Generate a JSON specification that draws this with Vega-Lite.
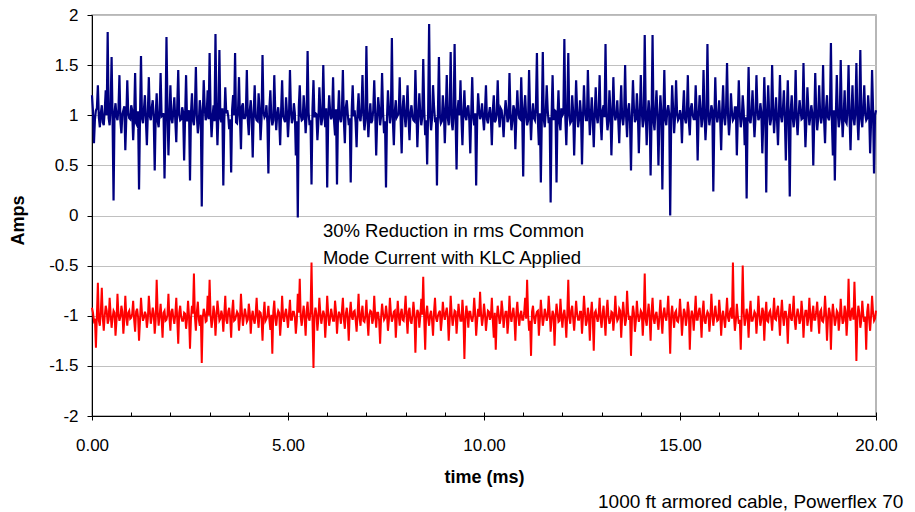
{
"$schema": "https://vega.github.io/schema/vega-lite/v6.json",
"width": 784, "height": 401,
"autosize": {"type": "none"},
"padding": {"left": 92, "top": 15, "right": 39, "bottom": 96},
"background": "white",
"config": {"view": {"stroke": "#a0a0a0", "strokeWidth": 1.5}, "font": "Liberation Sans"},
"title": {"text": "1000 ft armored cable, Powerflex 70", "orient": "bottom", "anchor": "end", "fontSize": 19, "fontWeight": "normal", "color": "black", "offset": 7, "dx": 6},
"resolve": {"axis": {"x": "independent"}},
"data": {"values": [
{"t":0,"b":1.2,"r":-0.92},{"t":0.05,"b":0.72,"r":-1.05},{"t":0.1,"b":1.05,"r":-1.32},{"t":0.15,"b":1.3,"r":-0.67},{"t":0.2,"b":0.88,"r":-1.1},{"t":0.25,"b":1.1,"r":-0.72},{"t":0.3,"b":0.9,"r":-1.15},{"t":0.35,"b":1.25,"r":-0.9},{"t":0.4,"b":1.83,"r":-1.08},{"t":0.45,"b":0.9,"r":-0.82},
{"t":0.5,"b":1.58,"r":-1.12},{"t":0.55,"b":0.15,"r":-0.95},{"t":0.6,"b":1.12,"r":-1.2},{"t":0.65,"b":0.95,"r":-0.78},{"t":0.7,"b":1.4,"r":-1.05},{"t":0.75,"b":0.82,"r":-0.9},{"t":0.8,"b":1.05,"r":-1.18},{"t":0.85,"b":0.65,"r":-0.8},{"t":0.9,"b":1.35,"r":-1.1},{"t":0.95,"b":0.97,"r":-0.95},
{"t":1,"b":1.1,"r":-1.02},{"t":1.05,"b":0.75,"r":-0.85},{"t":1.1,"b":1.42,"r":-1.16},{"t":1.15,"b":0.9,"r":-0.93},{"t":1.2,"b":0.26,"r":-1.25},{"t":1.25,"b":1.59,"r":-0.82},{"t":1.3,"b":0.92,"r":-1.05},{"t":1.35,"b":1.2,"r":-0.96},{"t":1.4,"b":0.7,"r":-1.12},{"t":1.45,"b":1.38,"r":-0.8},
{"t":1.5,"b":0.95,"r":-1.08},{"t":1.55,"b":1.15,"r":-0.92},{"t":1.6,"b":0.45,"r":-1.18},{"t":1.65,"b":1.22,"r":-0.64},{"t":1.7,"b":0.88,"r":-1.1},{"t":1.75,"b":1.42,"r":-0.88},{"t":1.8,"b":1.0,"r":-1.22},{"t":1.85,"b":0.37,"r":-0.95},{"t":1.9,"b":1.78,"r":-1.04},{"t":1.95,"b":0.6,"r":-0.78},
{"t":2,"b":1.3,"r":-1.15},{"t":2.05,"b":0.92,"r":-0.93},{"t":2.1,"b":1.18,"r":-1.08},{"t":2.15,"b":0.73,"r":-0.82},{"t":2.2,"b":1.45,"r":-1.28},{"t":2.25,"b":0.95,"r":-0.9},{"t":2.3,"b":1.08,"r":-1.05},{"t":2.35,"b":0.55,"r":-0.97},{"t":2.4,"b":1.4,"r":-1.13},{"t":2.45,"b":1.02,"r":-0.85},
{"t":2.5,"b":0.35,"r":-1.33},{"t":2.55,"b":1.22,"r":-0.9},{"t":2.6,"b":0.9,"r":-0.58},{"t":2.65,"b":1.48,"r":-1.15},{"t":2.7,"b":0.82,"r":-0.86},{"t":2.75,"b":1.15,"r":-1.1},{"t":2.8,"b":0.09,"r":-1.47},{"t":2.85,"b":1.35,"r":-0.93},{"t":2.9,"b":0.95,"r":-1.06},{"t":2.95,"b":1.25,"r":-0.8},
{"t":3,"b":1.62,"r":-0.64},{"t":3.05,"b":0.78,"r":-1.12},{"t":3.1,"b":1.1,"r":-0.9},{"t":3.15,"b":1.81,"r":-1.2},{"t":3.2,"b":0.7,"r":-0.85},{"t":3.25,"b":1.65,"r":-1.05},{"t":3.3,"b":0.93,"r":-0.95},{"t":3.35,"b":0.3,"r":-1.16},{"t":3.4,"b":1.28,"r":-0.8},{"t":3.45,"b":1.05,"r":-1.08},
{"t":3.5,"b":0.86,"r":-0.92},{"t":3.55,"b":0.43,"r":-1.22},{"t":3.6,"b":1.2,"r":-0.84},{"t":3.65,"b":1.62,"r":-1.04},{"t":3.7,"b":0.92,"r":-0.96},{"t":3.75,"b":1.38,"r":-1.15},{"t":3.8,"b":0.66,"r":-0.78},{"t":3.85,"b":1.12,"r":-1.1},{"t":3.9,"b":0.97,"r":-0.93},{"t":3.95,"b":1.45,"r":-1.06},
{"t":4,"b":0.8,"r":-0.88},{"t":4.05,"b":1.15,"r":-1.18},{"t":4.1,"b":0.58,"r":-0.95},{"t":4.15,"b":1.3,"r":-1.08},{"t":4.2,"b":0.95,"r":-0.82},{"t":4.25,"b":1.22,"r":-1.12},{"t":4.3,"b":0.75,"r":-0.97},{"t":4.35,"b":1.6,"r":-1.25},{"t":4.4,"b":0.98,"r":-0.86},{"t":4.45,"b":1.1,"r":-1.03},
{"t":4.5,"b":0.42,"r":-0.9},{"t":4.55,"b":1.25,"r":-1.14},{"t":4.6,"b":0.9,"r":-1.38},{"t":4.65,"b":1.4,"r":-0.85},{"t":4.7,"b":0.85,"r":-1.1},{"t":4.75,"b":1.08,"r":-0.95},{"t":4.8,"b":0.7,"r":-1.2},{"t":4.85,"b":1.35,"r":-0.8},{"t":4.9,"b":0.96,"r":-1.06},{"t":4.95,"b":1.18,"r":-0.93},
{"t":5,"b":0.78,"r":-1.12},{"t":5.05,"b":1.45,"r":-0.84},{"t":5.1,"b":0.92,"r":-1.04},{"t":5.15,"b":1.12,"r":-0.96},{"t":5.2,"b":0.6,"r":-1.18},{"t":5.25,"b":-0.02,"r":-0.78},{"t":5.3,"b":1.3,"r":-0.63},{"t":5.35,"b":0.95,"r":-1.1},{"t":5.4,"b":1.2,"r":-0.9},{"t":5.45,"b":0.82,"r":-1.2},
{"t":5.5,"b":1.64,"r":-0.86},{"t":5.55,"b":0.9,"r":-1.05},{"t":5.6,"b":0.31,"r":-0.47},{"t":5.65,"b":1.35,"r":-1.52},{"t":5.7,"b":1.02,"r":-0.92},{"t":5.75,"b":0.75,"r":-1.15},{"t":5.8,"b":1.28,"r":-0.82},{"t":5.85,"b":0.9,"r":-1.08},{"t":5.9,"b":1.5,"r":-0.95},{"t":5.95,"b":0.88,"r":-1.22},
{"t":6,"b":0.28,"r":-0.8},{"t":6.05,"b":1.2,"r":-1.1},{"t":6.1,"b":0.96,"r":-0.93},{"t":6.15,"b":1.38,"r":-1.05},{"t":6.2,"b":0.8,"r":-0.85},{"t":6.25,"b":0.31,"r":-1.18},{"t":6.3,"b":1.25,"r":-0.96},{"t":6.35,"b":0.93,"r":-1.08},{"t":6.4,"b":1.45,"r":-0.82},{"t":6.45,"b":0.72,"r":-1.13},
{"t":6.5,"b":1.15,"r":-0.92},{"t":6.55,"b":0.9,"r":-1.25},{"t":6.6,"b":0.33,"r":-0.86},{"t":6.65,"b":1.3,"r":-1.04},{"t":6.7,"b":1.05,"r":-0.95},{"t":6.75,"b":0.68,"r":-1.16},{"t":6.8,"b":1.22,"r":-0.78},{"t":6.85,"b":0.94,"r":-1.1},{"t":6.9,"b":1.4,"r":-0.9},{"t":6.95,"b":0.85,"r":-1.06},
{"t":7,"b":1.69,"r":-0.84},{"t":7.05,"b":0.78,"r":-1.2},{"t":7.1,"b":1.12,"r":-0.95},{"t":7.15,"b":0.95,"r":-1.08},{"t":7.2,"b":1.35,"r":-0.8},{"t":7.25,"b":0.6,"r":-1.12},{"t":7.3,"b":1.18,"r":-0.97},{"t":7.35,"b":0.9,"r":-1.28},{"t":7.4,"b":1.42,"r":-0.88},{"t":7.45,"b":0.82,"r":-1.04},
{"t":7.5,"b":0.28,"r":-0.9},{"t":7.55,"b":1.25,"r":-1.15},{"t":7.6,"b":0.92,"r":-0.82},{"t":7.65,"b":1.77,"r":-1.06},{"t":7.7,"b":0.7,"r":-0.96},{"t":7.75,"b":1.15,"r":-1.22},{"t":7.8,"b":1.0,"r":-0.85},{"t":7.85,"b":1.38,"r":-1.1},{"t":7.9,"b":0.62,"r":-0.93},{"t":7.95,"b":1.2,"r":-1.05},
{"t":8,"b":0.88,"r":-0.8},{"t":8.05,"b":1.3,"r":-1.18},{"t":8.1,"b":0.75,"r":-0.92},{"t":8.15,"b":1.1,"r":-1.08},{"t":8.2,"b":0.95,"r":-0.86},{"t":8.25,"b":1.45,"r":-1.37},{"t":8.3,"b":0.68,"r":-0.94},{"t":8.35,"b":1.22,"r":-1.12},{"t":8.4,"b":0.9,"r":-0.83},{"t":8.45,"b":1.56,"r":-0.61},
{"t":8.5,"b":0.8,"r":-1.34},{"t":8.55,"b":0.51,"r":-0.9},{"t":8.6,"b":1.91,"r":-1.1},{"t":8.65,"b":0.85,"r":-0.95},{"t":8.7,"b":1.3,"r":-1.2},{"t":8.75,"b":0.95,"r":-0.82},{"t":8.8,"b":0.3,"r":-1.06},{"t":8.85,"b":1.58,"r":-0.97},{"t":8.9,"b":0.92,"r":-1.15},{"t":8.95,"b":1.2,"r":-0.86},
{"t":9,"b":0.72,"r":-1.04},{"t":9.05,"b":1.4,"r":-0.92},{"t":9.1,"b":0.9,"r":-1.25},{"t":9.15,"b":1.63,"r":-0.8},{"t":9.2,"b":0.85,"r":-1.1},{"t":9.25,"b":1.71,"r":-0.95},{"t":9.3,"b":0.46,"r":-1.18},{"t":9.35,"b":1.15,"r":-0.88},{"t":9.4,"b":1.35,"r":-1.05},{"t":9.45,"b":0.7,"r":-0.84},
{"t":9.5,"b":1.25,"r":-1.43},{"t":9.55,"b":0.95,"r":-0.9},{"t":9.6,"b":1.1,"r":-1.12},{"t":9.65,"b":0.62,"r":-0.96},{"t":9.7,"b":1.38,"r":-1.06},{"t":9.75,"b":0.9,"r":-0.82},{"t":9.8,"b":0.3,"r":-1.2},{"t":9.85,"b":1.22,"r":-0.93},{"t":9.9,"b":0.96,"r":-0.76},{"t":9.95,"b":1.12,"r":-1.1},
{"t":10,"b":0.85,"r":-0.88},{"t":10.05,"b":1.3,"r":-1.15},{"t":10.1,"b":0.92,"r":-0.95},{"t":10.15,"b":1.08,"r":-1.04},{"t":10.2,"b":0.7,"r":-0.82},{"t":10.25,"b":1.2,"r":-1.22},{"t":10.3,"b":0.95,"r":-1.34},{"t":10.35,"b":1.35,"r":-0.9},{"t":10.4,"b":0.88,"r":-1.08},{"t":10.45,"b":1.05,"r":-0.85},
{"t":10.5,"b":0.78,"r":-1.12},{"t":10.55,"b":1.15,"r":-0.96},{"t":10.6,"b":0.93,"r":-1.18},{"t":10.65,"b":1.42,"r":-0.8},{"t":10.7,"b":0.85,"r":-1.06},{"t":10.75,"b":1.1,"r":-0.92},{"t":10.8,"b":0.66,"r":-1.25},{"t":10.85,"b":1.25,"r":-0.86},{"t":10.9,"b":0.97,"r":-1.1},{"t":10.95,"b":1.38,"r":-0.95},
{"t":11,"b":0.39,"r":-1.04},{"t":11.05,"b":1.2,"r":-0.82},{"t":11.1,"b":0.9,"r":-0.64},{"t":11.15,"b":1.45,"r":-1.15},{"t":11.2,"b":0.75,"r":-1.4},{"t":11.25,"b":1.12,"r":-0.9},{"t":11.3,"b":0.95,"r":-1.08},{"t":11.35,"b":1.62,"r":-0.96},{"t":11.4,"b":0.7,"r":-1.2},{"t":11.45,"b":0.33,"r":-0.84},
{"t":11.5,"b":1.63,"r":-1.1},{"t":11.55,"b":0.88,"r":-0.93},{"t":11.6,"b":1.3,"r":-1.05},{"t":11.65,"b":0.92,"r":-0.8},{"t":11.7,"b":0.13,"r":-1.16},{"t":11.75,"b":1.4,"r":-0.95},{"t":11.8,"b":1.05,"r":-1.3},{"t":11.85,"b":0.33,"r":-0.88},{"t":11.9,"b":1.25,"r":-1.06},{"t":11.95,"b":0.85,"r":-0.83},
{"t":12,"b":1.0,"r":-1.12},{"t":12.05,"b":1.76,"r":-0.94},{"t":12.1,"b":0.7,"r":-1.22},{"t":12.15,"b":1.62,"r":-0.64},{"t":12.2,"b":0.92,"r":-1.08},{"t":12.25,"b":1.2,"r":-0.9},{"t":12.3,"b":0.6,"r":-1.15},{"t":12.35,"b":1.35,"r":-0.85},{"t":12.4,"b":0.88,"r":-1.04},{"t":12.45,"b":1.15,"r":-0.96},
{"t":12.5,"b":0.51,"r":-1.18},{"t":12.55,"b":1.3,"r":-0.8},{"t":12.6,"b":0.95,"r":-1.1},{"t":12.65,"b":1.45,"r":-0.92},{"t":12.7,"b":0.8,"r":-1.25},{"t":12.75,"b":1.18,"r":-0.86},{"t":12.8,"b":0.68,"r":-1.35},{"t":12.85,"b":1.28,"r":-0.95},{"t":12.9,"b":0.92,"r":-1.06},{"t":12.95,"b":1.4,"r":-0.82},
{"t":13,"b":0.75,"r":-1.12},{"t":13.05,"b":1.1,"r":-0.9},{"t":13.1,"b":1.71,"r":-1.2},{"t":13.15,"b":0.85,"r":-0.84},{"t":13.2,"b":1.25,"r":-1.08},{"t":13.25,"b":0.6,"r":-0.96},{"t":13.3,"b":1.38,"r":-1.15},{"t":13.35,"b":0.95,"r":-0.8},{"t":13.4,"b":1.15,"r":-1.05},{"t":13.45,"b":0.72,"r":-0.93},
{"t":13.5,"b":1.3,"r":-1.22},{"t":13.55,"b":0.9,"r":-0.86},{"t":13.6,"b":1.5,"r":-1.1},{"t":13.65,"b":0.78,"r":-0.75},{"t":13.7,"b":1.12,"r":-1.04},{"t":13.75,"b":0.45,"r":-1.4},{"t":13.8,"b":1.35,"r":-0.9},{"t":13.85,"b":0.93,"r":-1.16},{"t":13.9,"b":1.22,"r":-0.85},{"t":13.95,"b":0.62,"r":-1.06},
{"t":14,"b":1.4,"r":-0.95},{"t":14.05,"b":0.88,"r":-1.2},{"t":14.1,"b":1.8,"r":-0.58},{"t":14.15,"b":0.7,"r":-1.1},{"t":14.2,"b":1.15,"r":-0.88},{"t":14.25,"b":0.4,"r":-1.25},{"t":14.3,"b":1.8,"r":-0.82},{"t":14.35,"b":0.85,"r":-1.08},{"t":14.4,"b":1.25,"r":-0.96},{"t":14.45,"b":0.5,"r":-1.14},
{"t":14.5,"b":1.2,"r":-0.84},{"t":14.55,"b":0.26,"r":-1.18},{"t":14.6,"b":1.45,"r":-0.92},{"t":14.65,"b":0.9,"r":-1.05},{"t":14.7,"b":1.1,"r":-0.8},{"t":14.75,"b":0.0,"r":-1.38},{"t":14.8,"b":1.3,"r":-0.9},{"t":14.85,"b":0.82,"r":-1.12},{"t":14.9,"b":1.35,"r":-0.95},{"t":14.95,"b":0.95,"r":-1.06},
{"t":15,"b":1.05,"r":-0.83},{"t":15.05,"b":0.72,"r":-1.2},{"t":15.1,"b":1.25,"r":-0.93},{"t":15.15,"b":0.92,"r":-1.1},{"t":15.2,"b":1.4,"r":-0.86},{"t":15.25,"b":0.8,"r":-1.34},{"t":15.3,"b":1.12,"r":-0.95},{"t":15.35,"b":0.96,"r":-1.15},{"t":15.4,"b":1.3,"r":-0.8},{"t":15.45,"b":0.55,"r":-1.04},
{"t":15.5,"b":1.2,"r":-0.92},{"t":15.55,"b":0.88,"r":-1.22},{"t":15.6,"b":1.45,"r":-0.85},{"t":15.65,"b":0.75,"r":-1.08},{"t":15.7,"b":1.71,"r":-0.96},{"t":15.75,"b":0.9,"r":-1.16},{"t":15.8,"b":1.1,"r":-0.78},{"t":15.85,"b":0.24,"r":-1.1},{"t":15.9,"b":1.38,"r":-0.9},{"t":15.95,"b":0.93,"r":-1.05},
{"t":16,"b":1.15,"r":-0.84},{"t":16.05,"b":0.65,"r":-1.2},{"t":16.1,"b":1.3,"r":-0.95},{"t":16.15,"b":0.9,"r":-1.12},{"t":16.2,"b":1.52,"r":-0.82},{"t":16.25,"b":0.8,"r":-1.06},{"t":16.3,"b":1.22,"r":-0.92},{"t":16.35,"b":0.95,"r":-0.47},{"t":16.4,"b":1.08,"r":-1.15},{"t":16.45,"b":0.6,"r":-0.88},
{"t":16.5,"b":1.35,"r":-1.08},{"t":16.55,"b":0.88,"r":-1.34},{"t":16.6,"b":1.2,"r":-0.5},{"t":16.65,"b":0.7,"r":-1.1},{"t":16.7,"b":0.17,"r":-0.93},{"t":16.75,"b":1.48,"r":-1.22},{"t":16.8,"b":0.92,"r":-0.85},{"t":16.85,"b":1.25,"r":-1.05},{"t":16.9,"b":0.78,"r":-0.96},{"t":16.95,"b":1.4,"r":-1.18},
{"t":17,"b":0.95,"r":-0.8},{"t":17.05,"b":1.12,"r":-1.1},{"t":17.1,"b":0.62,"r":-0.92},{"t":17.15,"b":1.38,"r":-1.25},{"t":17.2,"b":0.23,"r":-0.86},{"t":17.25,"b":1.3,"r":-1.06},{"t":17.3,"b":0.9,"r":-0.95},{"t":17.35,"b":1.5,"r":-1.15},{"t":17.4,"b":0.82,"r":-0.82},{"t":17.45,"b":1.18,"r":-1.04},
{"t":17.5,"b":0.7,"r":-0.9},{"t":17.55,"b":1.4,"r":-1.2},{"t":17.6,"b":0.93,"r":-0.84},{"t":17.65,"b":1.25,"r":-1.1},{"t":17.7,"b":0.55,"r":-0.96},{"t":17.75,"b":1.35,"r":-1.28},{"t":17.8,"b":0.19,"r":-0.88},{"t":17.85,"b":1.2,"r":-1.05},{"t":17.9,"b":0.88,"r":-0.8},{"t":17.95,"b":1.45,"r":-1.14},
{"t":18,"b":0.8,"r":-0.93},{"t":18.05,"b":1.15,"r":-1.08},{"t":18.1,"b":0.96,"r":-0.85},{"t":18.15,"b":1.52,"r":-1.22},{"t":18.2,"b":0.68,"r":-0.95},{"t":18.25,"b":1.28,"r":-1.1},{"t":18.3,"b":0.9,"r":-0.82},{"t":18.35,"b":1.1,"r":-1.16},{"t":18.4,"b":0.5,"r":-0.9},{"t":18.45,"b":1.42,"r":-1.04},
{"t":18.5,"b":0.85,"r":-0.86},{"t":18.55,"b":1.3,"r":-1.18},{"t":18.6,"b":0.92,"r":-0.94},{"t":18.65,"b":1.5,"r":-1.06},{"t":18.7,"b":0.72,"r":-0.8},{"t":18.75,"b":1.2,"r":-1.25},{"t":18.8,"b":0.95,"r":-0.92},{"t":18.85,"b":1.72,"r":-1.34},{"t":18.9,"b":0.6,"r":-0.88},{"t":18.95,"b":0.35,"r":-1.1},
{"t":19,"b":1.4,"r":-0.95},{"t":19.05,"b":0.88,"r":-1.15},{"t":19.1,"b":1.55,"r":-0.83},{"t":19.15,"b":0.78,"r":-1.08},{"t":19.2,"b":1.25,"r":-0.9},{"t":19.25,"b":0.92,"r":-1.2},{"t":19.3,"b":1.5,"r":-0.63},{"t":19.35,"b":0.65,"r":-1.05},{"t":19.4,"b":1.3,"r":-0.92},{"t":19.45,"b":0.9,"r":-0.66},
{"t":19.5,"b":1.52,"r":-1.45},{"t":19.55,"b":0.75,"r":-0.9},{"t":19.6,"b":1.65,"r":-1.12},{"t":19.65,"b":0.88,"r":-0.85},{"t":19.7,"b":1.3,"r":-1.06},{"t":19.75,"b":0.95,"r":-1.34},{"t":19.8,"b":1.2,"r":-0.88},{"t":19.85,"b":0.62,"r":-1.15},{"t":19.9,"b":1.45,"r":-0.8},{"t":19.95,"b":0.42,"r":-1.05},
{"t":20,"b":1.05,"r":-0.95},
{"t":0.025,"b":1.04,"r":-0.97},{"t":0.075,"b":0.96,"r":-1.03},{"t":0.125,"b":1.07,"r":-0.99},{"t":0.175,"b":0.98,"r":-1.05},{"t":0.225,"b":1.02,"r":-0.96},{"t":0.275,"b":0.93,"r":-1.02},{"t":0.325,"b":1.05,"r":-1.0},{"t":0.375,"b":1.0,"r":-0.95},{"t":0.425,"b":0.97,"r":-1.04},{"t":0.475,"b":1.08,"r":-0.98},
{"t":0.525,"b":0.95,"r":-1.02},{"t":0.575,"b":1.03,"r":-0.97},{"t":0.625,"b":0.99,"r":-1.05},{"t":0.675,"b":1.06,"r":-0.99},{"t":0.725,"b":0.94,"r":-1.01},{"t":0.775,"b":1.01,"r":-0.96},{"t":0.825,"b":1.09,"r":-1.04},{"t":0.875,"b":0.97,"r":-1.0},{"t":0.925,"b":1.02,"r":-0.97},{"t":0.975,"b":0.96,"r":-1.03},
{"t":1.025,"b":1.05,"r":-0.98},{"t":1.075,"b":0.98,"r":-1.04},{"t":1.125,"b":0.92,"r":-0.96},{"t":1.175,"b":1.04,"r":-1.01},{"t":1.225,"b":1.0,"r":-1.05},{"t":1.275,"b":0.97,"r":-0.97},{"t":1.325,"b":1.06,"r":-1.02},{"t":1.375,"b":0.95,"r":-0.99},{"t":1.425,"b":1.03,"r":-1.03},{"t":1.475,"b":0.99,"r":-0.95},
{"t":1.525,"b":1.08,"r":-1.01},{"t":1.575,"b":0.96,"r":-0.98},{"t":1.625,"b":1.01,"r":-1.04},{"t":1.675,"b":0.94,"r":-0.96},{"t":1.725,"b":1.05,"r":-1.0},{"t":1.775,"b":0.99,"r":-1.03},{"t":1.825,"b":1.02,"r":-0.97},{"t":1.875,"b":0.93,"r":-1.05},{"t":1.925,"b":1.07,"r":-0.99},{"t":1.975,"b":0.98,"r":-1.02},
{"t":2.025,"b":0.97,"r":-0.96},{"t":2.075,"b":1.04,"r":-1.02},{"t":2.125,"b":0.95,"r":-0.99},{"t":2.175,"b":1.1,"r":-1.04},{"t":2.225,"b":1.0,"r":-0.97},{"t":2.275,"b":0.96,"r":-1.01},{"t":2.325,"b":1.03,"r":-1.05},{"t":2.375,"b":0.98,"r":-0.98},{"t":2.425,"b":0.94,"r":-1.03},{"t":2.475,"b":1.05,"r":-1.0},
{"t":2.525,"b":1.02,"r":-1.03},{"t":2.575,"b":0.95,"r":-0.98},{"t":2.625,"b":1.06,"r":-1.01},{"t":2.675,"b":0.99,"r":-0.96},{"t":2.725,"b":0.93,"r":-1.04},{"t":2.775,"b":1.04,"r":-0.99},{"t":2.825,"b":0.97,"r":-1.02},{"t":2.875,"b":1.08,"r":-0.97},{"t":2.925,"b":1.0,"r":-1.05},{"t":2.975,"b":0.96,"r":-1.0},
{"t":3.025,"b":1.03,"r":-0.99},{"t":3.075,"b":0.98,"r":-1.04},{"t":3.125,"b":0.94,"r":-0.97},{"t":3.175,"b":1.05,"r":-1.02},{"t":3.225,"b":1.01,"r":-0.95},{"t":3.275,"b":0.97,"r":-1.03},{"t":3.325,"b":1.07,"r":-1.0},{"t":3.375,"b":0.95,"r":-0.98},{"t":3.425,"b":1.02,"r":-1.04},{"t":3.475,"b":0.99,"r":-0.96},
{"t":3.525,"b":0.96,"r":-1.02},{"t":3.575,"b":1.06,"r":-0.96},{"t":3.625,"b":1.0,"r":-1.05},{"t":3.675,"b":0.93,"r":-1.0},{"t":3.725,"b":1.04,"r":-0.98},{"t":3.775,"b":0.98,"r":-1.03},{"t":3.825,"b":1.09,"r":-0.97},{"t":3.875,"b":0.97,"r":-1.01},{"t":3.925,"b":1.01,"r":-0.99},{"t":3.975,"b":0.95,"r":-1.04},
{"t":4.025,"b":1.05,"r":-0.97},{"t":4.075,"b":0.97,"r":-1.01},{"t":4.125,"b":1.02,"r":-1.04},{"t":4.175,"b":0.99,"r":-0.98},{"t":4.225,"b":0.94,"r":-1.02},{"t":4.275,"b":1.06,"r":-0.96},{"t":4.325,"b":0.96,"r":-1.03},{"t":4.375,"b":1.03,"r":-0.99},{"t":4.425,"b":1.0,"r":-1.05},{"t":4.475,"b":0.92,"r":-1.0},
{"t":4.525,"b":1.07,"r":-1.04},{"t":4.575,"b":0.98,"r":-0.99},{"t":4.625,"b":0.95,"r":-0.96},{"t":4.675,"b":1.04,"r":-1.03},{"t":4.725,"b":1.01,"r":-1.0},{"t":4.775,"b":0.96,"r":-0.97},{"t":4.825,"b":1.05,"r":-1.05},{"t":4.875,"b":0.99,"r":-1.01},{"t":4.925,"b":0.93,"r":-0.98},{"t":4.975,"b":1.02,"r":-1.02},
{"t":5.025,"b":0.98,"r":-0.98},{"t":5.075,"b":1.05,"r":-1.04},{"t":5.125,"b":0.97,"r":-0.96},{"t":5.175,"b":1.02,"r":-1.01},{"t":5.225,"b":0.94,"r":-1.05},{"t":5.275,"b":1.08,"r":-0.97},{"t":5.325,"b":1.0,"r":-1.02},{"t":5.375,"b":0.96,"r":-0.99},{"t":5.425,"b":1.04,"r":-1.03},{"t":5.475,"b":0.99,"r":-0.95},
{"t":5.525,"b":1.03,"r":-1.02},{"t":5.575,"b":0.95,"r":-0.96},{"t":5.625,"b":1.06,"r":-1.05},{"t":5.675,"b":0.98,"r":-1.0},{"t":5.725,"b":1.01,"r":-0.98},{"t":5.775,"b":0.93,"r":-1.03},{"t":5.825,"b":1.05,"r":-0.97},{"t":5.875,"b":0.97,"r":-1.01},{"t":5.925,"b":1.02,"r":-0.99},{"t":5.975,"b":1.07,"r":-1.04},
{"t":6.025,"b":0.96,"r":-0.97},{"t":6.075,"b":1.04,"r":-1.03},{"t":6.125,"b":0.99,"r":-0.99},{"t":6.175,"b":0.94,"r":-1.05},{"t":6.225,"b":1.06,"r":-0.96},{"t":6.275,"b":1.0,"r":-1.02},{"t":6.325,"b":0.97,"r":-1.0},{"t":6.375,"b":1.03,"r":-0.95},{"t":6.425,"b":0.95,"r":-1.04},{"t":6.475,"b":1.08,"r":-0.98},
{"t":6.525,"b":1.01,"r":-1.03},{"t":6.575,"b":0.97,"r":-0.98},{"t":6.625,"b":1.05,"r":-1.01},{"t":6.675,"b":0.99,"r":-0.96},{"t":6.725,"b":0.93,"r":-1.04},{"t":6.775,"b":1.04,"r":-0.99},{"t":6.825,"b":0.98,"r":-1.02},{"t":6.875,"b":1.06,"r":-0.97},{"t":6.925,"b":1.0,"r":-1.05},{"t":6.975,"b":0.95,"r":-1.0},
{"t":7.025,"b":1.04,"r":-1.04},{"t":7.075,"b":0.98,"r":-0.99},{"t":7.125,"b":0.92,"r":-0.96},{"t":7.175,"b":1.05,"r":-1.03},{"t":7.225,"b":1.02,"r":-1.0},{"t":7.275,"b":0.96,"r":-0.97},{"t":7.325,"b":1.07,"r":-1.05},{"t":7.375,"b":0.99,"r":-1.01},{"t":7.425,"b":1.03,"r":-0.98},{"t":7.475,"b":0.94,"r":-1.02},
{"t":7.525,"b":0.97,"r":-0.99},{"t":7.575,"b":1.06,"r":-1.04},{"t":7.625,"b":1.01,"r":-0.97},{"t":7.675,"b":0.95,"r":-1.02},{"t":7.725,"b":1.04,"r":-0.95},{"t":7.775,"b":0.98,"r":-1.03},{"t":7.825,"b":1.02,"r":-1.0},{"t":7.875,"b":0.93,"r":-0.98},{"t":7.925,"b":1.08,"r":-1.04},{"t":7.975,"b":1.0,"r":-0.96},
{"t":8.025,"b":1.05,"r":-1.02},{"t":8.075,"b":0.96,"r":-0.96},{"t":8.125,"b":1.03,"r":-1.05},{"t":8.175,"b":0.99,"r":-1.0},{"t":8.225,"b":0.94,"r":-0.98},{"t":8.275,"b":1.07,"r":-1.03},{"t":8.325,"b":0.97,"r":-0.97},{"t":8.375,"b":1.02,"r":-1.01},{"t":8.425,"b":0.98,"r":-0.99},{"t":8.475,"b":1.06,"r":-1.04},
{"t":8.525,"b":0.95,"r":-0.97},{"t":8.575,"b":1.04,"r":-1.03},{"t":8.625,"b":1.0,"r":-0.99},{"t":8.675,"b":0.97,"r":-1.05},{"t":8.725,"b":1.09,"r":-0.96},{"t":8.775,"b":0.96,"r":-1.02},{"t":8.825,"b":1.03,"r":-1.0},{"t":8.875,"b":0.99,"r":-0.95},{"t":8.925,"b":0.94,"r":-1.04},{"t":8.975,"b":1.05,"r":-0.98},
{"t":9.025,"b":1.02,"r":-0.97},{"t":9.075,"b":0.98,"r":-1.01},{"t":9.125,"b":1.06,"r":-1.04},{"t":9.175,"b":0.93,"r":-0.98},{"t":9.225,"b":1.01,"r":-1.02},{"t":9.275,"b":0.97,"r":-0.96},{"t":9.325,"b":1.05,"r":-1.03},{"t":9.375,"b":1.0,"r":-0.99},{"t":9.425,"b":0.96,"r":-1.05},{"t":9.475,"b":1.04,"r":-1.0},
{"t":9.525,"b":0.99,"r":-1.04},{"t":9.575,"b":1.07,"r":-0.99},{"t":9.625,"b":0.95,"r":-0.96},{"t":9.675,"b":1.03,"r":-1.03},{"t":9.725,"b":0.98,"r":-1.0},{"t":9.775,"b":1.02,"r":-0.97},{"t":9.825,"b":0.94,"r":-1.05},{"t":9.875,"b":1.06,"r":-1.01},{"t":9.925,"b":1.0,"r":-0.98},{"t":9.975,"b":0.97,"r":-1.02},
{"t":10.025,"b":1.04,"r":-0.98},{"t":10.075,"b":0.96,"r":-1.04},{"t":10.125,"b":1.01,"r":-0.96},{"t":10.175,"b":0.98,"r":-1.01},{"t":10.225,"b":1.05,"r":-1.05},{"t":10.275,"b":0.93,"r":-0.97},{"t":10.325,"b":1.03,"r":-1.02},{"t":10.375,"b":0.99,"r":-0.99},{"t":10.425,"b":1.07,"r":-1.03},{"t":10.475,"b":0.95,"r":-0.95},
{"t":10.525,"b":1.0,"r":-1.02},{"t":10.575,"b":1.05,"r":-0.96},{"t":10.625,"b":0.97,"r":-1.05},{"t":10.675,"b":1.02,"r":-1.0},{"t":10.725,"b":0.94,"r":-0.98},{"t":10.775,"b":1.06,"r":-1.03},{"t":10.825,"b":0.98,"r":-0.97},{"t":10.875,"b":1.03,"r":-1.01},{"t":10.925,"b":0.96,"r":-0.99},{"t":10.975,"b":1.01,"r":-1.04},
{"t":11.025,"b":1.06,"r":-0.97},{"t":11.075,"b":0.99,"r":-1.03},{"t":11.125,"b":0.95,"r":-0.99},{"t":11.175,"b":1.04,"r":-1.05},{"t":11.225,"b":1.0,"r":-0.96},{"t":11.275,"b":0.97,"r":-1.02},{"t":11.325,"b":1.08,"r":-1.0},{"t":11.375,"b":0.94,"r":-0.95},{"t":11.425,"b":1.02,"r":-1.04},{"t":11.475,"b":0.98,"r":-0.98},
{"t":11.525,"b":0.96,"r":-1.03},{"t":11.575,"b":1.03,"r":-0.98},{"t":11.625,"b":1.05,"r":-1.01},{"t":11.675,"b":0.98,"r":-0.96},{"t":11.725,"b":1.01,"r":-1.04},{"t":11.775,"b":0.95,"r":-0.99},{"t":11.825,"b":1.04,"r":-1.02},{"t":11.875,"b":0.99,"r":-0.97},{"t":11.925,"b":0.93,"r":-1.05},{"t":11.975,"b":1.07,"r":-1.0},
{"t":12.025,"b":1.02,"r":-0.99},{"t":12.075,"b":0.97,"r":-1.04},{"t":12.125,"b":1.06,"r":-0.97},{"t":12.175,"b":1.0,"r":-1.02},{"t":12.225,"b":0.94,"r":-0.95},{"t":12.275,"b":1.03,"r":-1.03},{"t":12.325,"b":0.98,"r":-1.0},{"t":12.375,"b":1.05,"r":-0.98},{"t":12.425,"b":0.96,"r":-1.04},{"t":12.475,"b":1.01,"r":-0.96},
{"t":12.525,"b":0.98,"r":-1.02},{"t":12.575,"b":1.04,"r":-0.96},{"t":12.625,"b":0.95,"r":-1.05},{"t":12.675,"b":1.07,"r":-1.0},{"t":12.725,"b":1.0,"r":-0.98},{"t":12.775,"b":0.96,"r":-1.03},{"t":12.825,"b":1.02,"r":-0.97},{"t":12.875,"b":0.99,"r":-1.01},{"t":12.925,"b":1.05,"r":-0.99},{"t":12.975,"b":0.93,"r":-1.04},
{"t":13.025,"b":1.05,"r":-0.98},{"t":13.075,"b":0.98,"r":-1.04},{"t":13.125,"b":1.01,"r":-0.96},{"t":13.175,"b":0.94,"r":-1.01},{"t":13.225,"b":1.06,"r":-1.05},{"t":13.275,"b":0.97,"r":-0.97},{"t":13.325,"b":1.03,"r":-1.02},{"t":13.375,"b":1.0,"r":-0.99},{"t":13.425,"b":0.95,"r":-1.03},{"t":13.475,"b":1.04,"r":-0.95},
{"t":13.525,"b":0.97,"r":-1.01},{"t":13.575,"b":1.02,"r":-0.98},{"t":13.625,"b":0.99,"r":-1.04},{"t":13.675,"b":1.05,"r":-0.96},{"t":13.725,"b":0.93,"r":-1.0},{"t":13.775,"b":1.01,"r":-1.03},{"t":13.825,"b":1.07,"r":-0.97},{"t":13.875,"b":0.96,"r":-1.05},{"t":13.925,"b":1.03,"r":-0.99},{"t":13.975,"b":0.98,"r":-1.02},
{"t":14.025,"b":1.04,"r":-0.97},{"t":14.075,"b":0.95,"r":-1.01},{"t":14.125,"b":1.06,"r":-1.04},{"t":14.175,"b":0.99,"r":-0.98},{"t":14.225,"b":1.02,"r":-1.02},{"t":14.275,"b":0.97,"r":-0.96},{"t":14.325,"b":0.94,"r":-1.03},{"t":14.375,"b":1.05,"r":-0.99},{"t":14.425,"b":1.0,"r":-1.05},{"t":14.475,"b":0.96,"r":-1.0},
{"t":14.525,"b":1.03,"r":-1.03},{"t":14.575,"b":0.98,"r":-0.98},{"t":14.625,"b":0.96,"r":-1.01},{"t":14.675,"b":1.04,"r":-0.96},{"t":14.725,"b":1.01,"r":-1.04},{"t":14.775,"b":0.95,"r":-0.99},{"t":14.825,"b":1.06,"r":-1.02},{"t":14.875,"b":0.99,"r":-0.97},{"t":14.925,"b":1.02,"r":-1.05},{"t":14.975,"b":0.97,"r":-1.0},
{"t":15.025,"b":0.99,"r":-0.99},{"t":15.075,"b":1.05,"r":-1.04},{"t":15.125,"b":0.97,"r":-0.97},{"t":15.175,"b":1.02,"r":-1.02},{"t":15.225,"b":0.94,"r":-0.95},{"t":15.275,"b":1.07,"r":-1.03},{"t":15.325,"b":1.0,"r":-1.0},{"t":15.375,"b":0.96,"r":-0.98},{"t":15.425,"b":1.04,"r":-1.04},{"t":15.475,"b":0.98,"r":-0.96},
{"t":15.525,"b":1.06,"r":-1.02},{"t":15.575,"b":0.97,"r":-0.96},{"t":15.625,"b":1.01,"r":-1.05},{"t":15.675,"b":0.95,"r":-1.0},{"t":15.725,"b":1.03,"r":-0.98},{"t":15.775,"b":0.99,"r":-1.03},{"t":15.825,"b":1.05,"r":-0.97},{"t":15.875,"b":0.93,"r":-1.01},{"t":15.925,"b":1.02,"r":-0.99},{"t":15.975,"b":1.0,"r":-1.04},
{"t":16.025,"b":0.96,"r":-0.97},{"t":16.075,"b":1.04,"r":-1.01},{"t":16.125,"b":0.98,"r":-1.04},{"t":16.175,"b":1.06,"r":-0.98},{"t":16.225,"b":1.0,"r":-1.02},{"t":16.275,"b":0.94,"r":-0.96},{"t":16.325,"b":1.03,"r":-1.03},{"t":16.375,"b":0.97,"r":-0.99},{"t":16.425,"b":1.08,"r":-1.05},{"t":16.475,"b":0.99,"r":-1.0},
{"t":16.525,"b":1.02,"r":-1.04},{"t":16.575,"b":0.96,"r":-0.99},{"t":16.625,"b":1.05,"r":-0.96},{"t":16.675,"b":0.98,"r":-1.03},{"t":16.725,"b":1.01,"r":-1.0},{"t":16.775,"b":0.95,"r":-0.97},{"t":16.825,"b":1.04,"r":-1.05},{"t":16.875,"b":1.0,"r":-1.01},{"t":16.925,"b":0.97,"r":-0.98},{"t":16.975,"b":1.06,"r":-1.02},
{"t":17.025,"b":0.98,"r":-0.98},{"t":17.075,"b":1.03,"r":-1.04},{"t":17.125,"b":0.94,"r":-0.96},{"t":17.175,"b":1.05,"r":-1.01},{"t":17.225,"b":0.99,"r":-1.05},{"t":17.275,"b":1.02,"r":-0.97},{"t":17.325,"b":0.96,"r":-1.02},{"t":17.375,"b":1.07,"r":-0.99},{"t":17.425,"b":1.0,"r":-1.03},{"t":17.475,"b":0.95,"r":-0.95},
{"t":17.525,"b":1.04,"r":-1.03},{"t":17.575,"b":0.99,"r":-0.98},{"t":17.625,"b":1.06,"r":-1.01},{"t":17.675,"b":0.97,"r":-0.96},{"t":17.725,"b":1.02,"r":-1.04},{"t":17.775,"b":0.93,"r":-0.99},{"t":17.825,"b":1.05,"r":-1.02},{"t":17.875,"b":0.98,"r":-0.97},{"t":17.925,"b":1.01,"r":-1.05},{"t":17.975,"b":0.96,"r":-1.0},
{"t":18.025,"b":1.0,"r":-0.99},{"t":18.075,"b":1.05,"r":-1.04},{"t":18.125,"b":0.97,"r":-0.97},{"t":18.175,"b":1.03,"r":-1.02},{"t":18.225,"b":0.95,"r":-0.95},{"t":18.275,"b":1.06,"r":-1.03},{"t":18.325,"b":0.99,"r":-1.0},{"t":18.375,"b":1.02,"r":-0.98},{"t":18.425,"b":0.94,"r":-1.04},{"t":18.475,"b":1.04,"r":-0.96},
{"t":18.525,"b":0.97,"r":-1.02},{"t":18.575,"b":1.02,"r":-0.96},{"t":18.625,"b":1.0,"r":-1.05},{"t":18.675,"b":0.96,"r":-1.0},{"t":18.725,"b":1.07,"r":-0.98},{"t":18.775,"b":0.98,"r":-1.03},{"t":18.825,"b":1.03,"r":-0.97},{"t":18.875,"b":0.95,"r":-1.01},{"t":18.925,"b":1.05,"r":-0.99},{"t":18.975,"b":0.99,"r":-1.04},
{"t":19.025,"b":1.03,"r":-0.97},{"t":19.075,"b":0.96,"r":-1.03},{"t":19.125,"b":1.04,"r":-0.99},{"t":19.175,"b":1.0,"r":-1.05},{"t":19.225,"b":0.94,"r":-0.96},{"t":19.275,"b":1.06,"r":-1.02},{"t":19.325,"b":0.98,"r":-1.0},{"t":19.375,"b":1.02,"r":-0.95},{"t":19.425,"b":0.97,"r":-1.04},{"t":19.475,"b":1.05,"r":-0.98},
{"t":19.525,"b":0.99,"r":-1.02},{"t":19.575,"b":1.04,"r":-0.97},{"t":19.625,"b":0.96,"r":-1.05},{"t":19.675,"b":1.07,"r":-0.99},{"t":19.725,"b":1.01,"r":-1.01},{"t":19.775,"b":0.97,"r":-0.96},{"t":19.825,"b":1.03,"r":-1.04},{"t":19.875,"b":0.95,"r":-1.0},{"t":19.925,"b":1.06,"r":-0.97},{"t":19.975,"b":1.0,"r":-1.03}
]},
"layer": [
{"mark": {"type": "line", "color": "#000080", "strokeWidth": 2.2},
 "encoding": {
  "x": {"field": "t", "type": "quantitative", "scale": {"domain": [0, 20], "nice": false, "zero": false},
   "axis": {"orient": "bottom", "values": [0, 5, 10, 15, 20], "format": ".2f", "grid": false, "tickSize": 4, "tickColor": "black", "domainColor": "black", "labelFontSize": 17, "labelColor": "black", "labelPadding": 17, "labelFlush": false, "labelOverlap": false, "labelBound": false, "title": "time (ms)", "titleFontSize": 18, "titleFontWeight": "bold", "titleColor": "black", "titleY": 61, "titleBaseline": "middle"}},
  "y": {"field": "b", "type": "quantitative", "scale": {"domain": [-2, 2], "nice": false, "zero": false},
   "axis": {"values": [-2,-1.5,-1,-0.5,0,0.5,1,1.5,2], "labelExpr": "'' + datum.value", "grid": true, "gridColor": "#c0c0c0", "gridWidth": 1, "tickSize": 5, "tickColor": "black", "domainColor": "black", "labelFontSize": 17, "labelColor": "black", "labelPadding": 9, "labelOverlap": false, "title": "Amps", "titleFontSize": 18, "titleFontWeight": "bold", "titleColor": "black", "titleAngle": -90, "titleX": -74, "titleY": 205, "titleAlign": "center", "titleBaseline": "middle"}}
 }},
{"mark": {"type": "line", "color": "#ff0000", "strokeWidth": 2},
 "encoding": {
  "x": {"field": "t", "type": "quantitative",
   "axis": {"orient": "bottom", "values": [0,1,2,3,4,5,6,7,8,9,10,11,12,13,14,15,16,17,18,19,20], "labels": false, "domain": false, "grid": false, "tickSize": -4, "tickColor": "black", "title": null}},
  "y": {"field": "r", "type": "quantitative", "title": "Amps"}
 }},
{"data": {"values": [{"note": "30% Reduction in rms Common\nMode Current with KLC Applied"}]},
 "mark": {"type": "text", "align": "left", "baseline": "alphabetic", "fontSize": 18.5, "lineHeight": 27, "lineBreak": "\n", "color": "black"},
 "encoding": {"text": {"field": "note"}, "x": {"datum": 5.89, "axis": null}, "y": {"datum": -0.21}}}
]
}
